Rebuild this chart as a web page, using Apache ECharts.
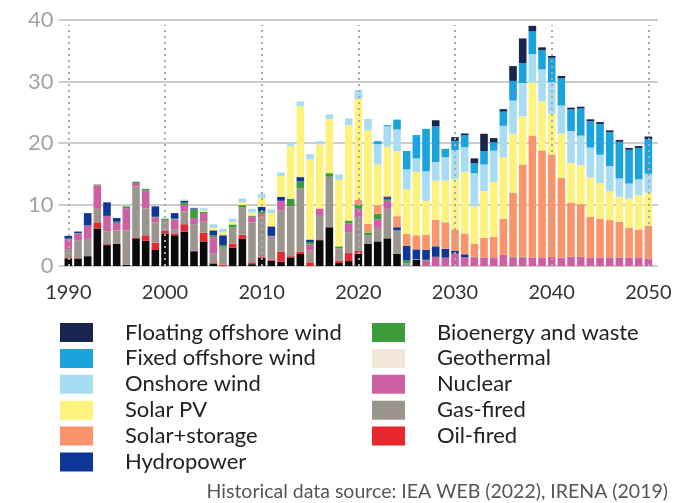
<!DOCTYPE html>
<html>
<head>
<meta charset="utf-8">
<script src="https://cdn.jsdelivr.net/npm/echarts@6/dist/echarts.min.js"></script>
<style>
html,body{margin:0;padding:0;background:#fff;}
#c{width:676px;height:503px;}
</style>
</head>
<body>
<div id="c"></div>
<script>
var years = [];
for (var y = 1990; y <= 2050; y++) years.push(String(y));
var decadeTicks = ['1990', '2000', '2010', '2020', '2030', '2040', '2050'];
var yTicks = [0, 10, 20, 30, 40];

var coal = [1.25,1.2,1.6,6.1,3.4,3.6,0.2,4.5,4.1,2.6, 5.3,5.0,5.6,2.4,4.0,0.4,0,3.0,4.4,0.3, 1.35,0.85,0.7,1.4,1.95,0,4.2,6.3,0.5,0.8, 2.0,3.6,4.0,4.5,2.0,0,1.0,0,0,0, 0,0,0,0,0,0,0,0,0,0, 0,0,0,0,0,0,0,0,0,0,0];
var oil = [0.15,0.1,0,1.0,0.15,0,0,0.15,0.9,1.2, 0.4,0.3,1.2,0.1,1.4,0.2,0.2,0.65,0.7,0.3, 0.2,0.2,1.6,0.2,0.4,0.6,0.15,0,0.4,1.3, 0.45,0,0,0,0,0,0,0,0,0, 0,0,0,0,0,0,0,0,0,0, 0,0,0,0,0,0,0,0,0,0,0];
var gas = [1.35,2.9,2.8,2.2,2.1,2.2,5.6,8.3,4.35,3.3, 1.8,0.6,2.05,4.3,1.8,1.4,2.9,2.6,4.4,6.5, 6.4,3.7,6.7,8.1,10.3,1.9,3.8,8.2,2.0,3.4, 5.5,1.4,2.2,4.8,3.8,0.4,0.1,0,0,0, 0,0,0,0,0,0,0,0,0,0, 0,0,0,0,0,0,0,0,0,0,0];
var nuclear = [1.6,1.1,2.2,3.8,2.5,1.2,3.6,0.55,2.9,0.8, 0,1.7,1.1,1.0,1.4,2.7,0,0,0,0.9, 0.55,0.15,1.6,0,0,1.0,1.2,0,0,1.4, 1.35,0,1.4,1.3,0,0,0,0.9,1.5,1.35, 2.0,1.4,1.4,1.4,1.4,1.8,1.4,1.4,1.4,1.4, 1.45,1.35,1.5,1.5,1.4,1.4,1.4,1.4,1.4,1.4,1.25];
var bio = [0.1,0.05,0,0.15,0,0.2,0.3,0.2,0.3,0.1, 0.2,0.1,0.35,1.4,0.2,0.3,0.3,0.5,0.4,0.2, 0.4,0,0,1.25,1.1,0.4,0,0.6,0.3,0.5, 0.7,0.45,0.9,0.3,0,0.5,0,0.1,0,0, 0,0,0.1,0,0,0,0.1,0.1,0,0, 0,0,0,0,0,0,0,0,0,0,0];
var hydro = [0.45,0.25,2.0,0,2.2,0.6,0,0,0,1.7, 0,0.9,0.3,0.2,0,0.8,1.6,0,0,0, 0.7,1.55,0.65,0,0.7,0.4,0,0,0,0, 0,0,0,0.3,0.5,2.4,1.6,1.6,1.7,1.45, 0.45,0.5,0,0,0,0,0,0,0,0, 0,0,0,0,0,0,0,0,0,0,0];
var geothermal = [0,0,0,0,0,0,0,0,0,0, 0,0,0,0,0,0,0,0,0,0, 0,0,0,0,0,0,0,0,0,0, 0,0,0,0,0,0,0,0,0,0, 0,0,0,0,0,0,0,0,0,0, 0,0,0,0,0,0,0,0,0,0,0];
var solarStorage = [0,0,0,0,0,0,0,0,0,0, 0,0,0,0,0,0,0,0,0,0, 0,0,0,0,0,0,0,0,0,0, 0.75,1.4,1.4,0.2,1.8,1.9,2.3,2.5,4.3,4.3, 3.5,3.4,2.15,3.2,3.35,5.9,10.4,15.0,19.8,17.4, 16.7,13.0,8.75,8.55,6.6,6.3,6.05,5.8,4.85,4.55,5.3];
var solarPV = [0,0,0,0,0,0,0,0,0,0, 0,0,0,0,0.2,0.4,0.5,0.4,0.5,0.5, 1.5,2.15,3.4,8.6,11.5,13.0,10.4,8.8,10.8,15.5, 16.4,15.2,6.6,8.0,10.6,7.3,10.3,5.5,6.4,6.8, 8.2,10.0,6.05,7.6,8.9,10.0,9.6,7.85,8.65,8.0, 6.6,7.15,6.5,6.3,6.4,5.8,4.7,4.05,4.7,5.55,5.35];
var onshore = [0,0,0,0,0,0,0,0,0,0, 0,0,0.2,0.1,0.4,0.6,0.55,0.55,0.6,0.6, 0.65,0.6,0.55,0.4,0.8,0.9,0.55,0.75,0.9,1.1, 1.5,1.85,3.3,3.3,3.5,3.2,2.2,4.8,3.0,3.8, 4.7,4.05,5.4,4.3,5.1,5.1,5.4,5.4,4.6,5.2, 5.15,4.6,5.2,4.85,4.85,4.6,4.1,3.0,2.45,2.6,3.1];
var fixedOffshore = [0,0,0,0,0,0,0,0,0,0, 0,0,0,0,0,0,0,0,0,0, 0,0,0,0,0,0,0,0,0,0, 0,0,0.5,0.2,1.6,3.0,3.8,6.9,5.8,1.35, 1.5,1.9,1.6,2.2,1.35,2.3,3.2,3.25,3.7,3.1, 3.95,4.4,3.5,4.4,4.3,5.0,5.5,5.95,5.5,5.1,5.65];
var floatingOffshore = [0,0,0,0,0,0,0,0,0,0, 0,0,0,0,0,0,0,0,0,0, 0,0,0,0,0,0,0,0,0,0, 0,0,0,0,0,0,0,0,1.0,0, 0.6,0.3,0.8,2.8,0.7,0.4,2.4,4.0,0.9,0.45, 0.3,0.4,0.3,0.3,0.3,0.3,0.3,0.3,0.3,0.3,0.4];

var seriesDefs = [
  {name: 'Coal-fired', data: coal, color: '#0b0b0b'},
  {name: 'Oil-fired', data: oil, color: '#e8272f'},
  {name: 'Gas-fired', data: gas, color: '#9c958d'},
  {name: 'Nuclear', data: nuclear, color: '#cf5fa3'},
  {name: 'Bioenergy and waste', data: bio, color: '#3c9c3a'},
  {name: 'Hydropower', data: hydro, color: '#0e3797'},
  {name: 'Geothermal', data: geothermal, color: '#f2e6d8'},
  {name: 'Solar+storage', data: solarStorage, color: '#fb946a'},
  {name: 'Solar PV', data: solarPV, color: '#fdf27c'},
  {name: 'Onshore wind', data: onshore, color: '#a7dcf2'},
  {name: 'Fixed offshore wind', data: fixedOffshore, color: '#1ba3dd'},
  {name: 'Floating offshore wind', data: floatingOffshore, color: '#17254f'}
];

var series = seriesDefs.map(function (d) {
  return {
    name: d.name,
    type: 'bar',
    stack: 'total',
    xAxisIndex: 1,
    yAxisIndex: 1,
    barWidth: 7.6,
    itemStyle: {color: d.color},
    data: d.data,
    animation: false
  };
});

series[series.length - 1].markLine = {
  silent: true,
  symbol: ['none', 'none'],
  label: {show: false},
  lineStyle: {color: '#aaaaaa', width: 2, type: [2, 4]},
  data: decadeTicks.map(function (t) { return [{coord: [t, 0]}, {coord: [t, 39.2]}]; }),
  animation: false
};

var col1 = ['Floating offshore wind', 'Fixed offshore wind', 'Onshore wind', 'Solar PV', 'Solar+storage', 'Hydropower'];
var col2 = ['Bioenergy and waste', 'Geothermal', 'Nuclear', 'Gas-fired', 'Oil-fired'];

var legendBase = {
  orient: 'vertical',
  top: 321.5,
  padding: 0,
  itemWidth: 33,
  itemHeight: 19,
  itemGap: 3.9,
  icon: 'rect',
  align: 'left',
  selectedMode: false,
  textStyle: {fontFamily: 'Lato', fontSize: 22, color: '#222', padding: [0, 0, 0, 27]}
};

var chart = echarts.init(document.getElementById('c'), null, {renderer: 'canvas'});
chart.setOption({
  animation: false,
  backgroundColor: '#fff',
  grid: [
    {left: 58.6, right: 18, top: 20, bottom: 237, containLabel: false},
    {left: 63.5, right: 22.8, top: 20, bottom: 237, containLabel: false}
  ],
  xAxis: [{
    gridIndex: 0,
    type: 'value', min: 0, max: 1, show: false
  }, {
    gridIndex: 1,
    type: 'category',
    data: years,
    boundaryGap: true,
    axisLine: {show: false},
    axisTick: {show: false},
    splitLine: {show: false},
    axisLabel: {
      margin: 17,
      fontFamily: 'Lato',
      fontSize: 20,
      color: '#333',
      interval: function (idx, val) { return decadeTicks.indexOf(val) >= 0; }
    }
  }],
  yAxis: [{
    gridIndex: 0,
    type: 'value',
    min: yTicks[0],
    max: yTicks[yTicks.length - 1],
    interval: 10,
    axisLine: {show: false},
    axisTick: {show: false},
    splitLine: {lineStyle: {color: '#bdbdbd', width: 1.6}},
    axisLabel: {margin: 5, fontFamily: 'Lato', fontSize: 22, color: '#a3a3a3'}
  }, {
    gridIndex: 1,
    type: 'value',
    min: yTicks[0],
    max: yTicks[yTicks.length - 1],
    interval: 10,
    show: false,
    splitLine: {show: false}
  }],
  legend: [
    Object.assign({}, legendBase, {left: 60, data: col1}),
    Object.assign({}, legendBase, {left: 372, data: col2})
  ],
  graphic: [{
    type: 'text',
    right: 8,
    top: 482,
    style: {text: 'Historical data source: IEA WEB (2022), IRENA (2019)', font: '19.5px Lato', fill: '#555'}
  }],
  series: series
});
</script>
</body>
</html>
